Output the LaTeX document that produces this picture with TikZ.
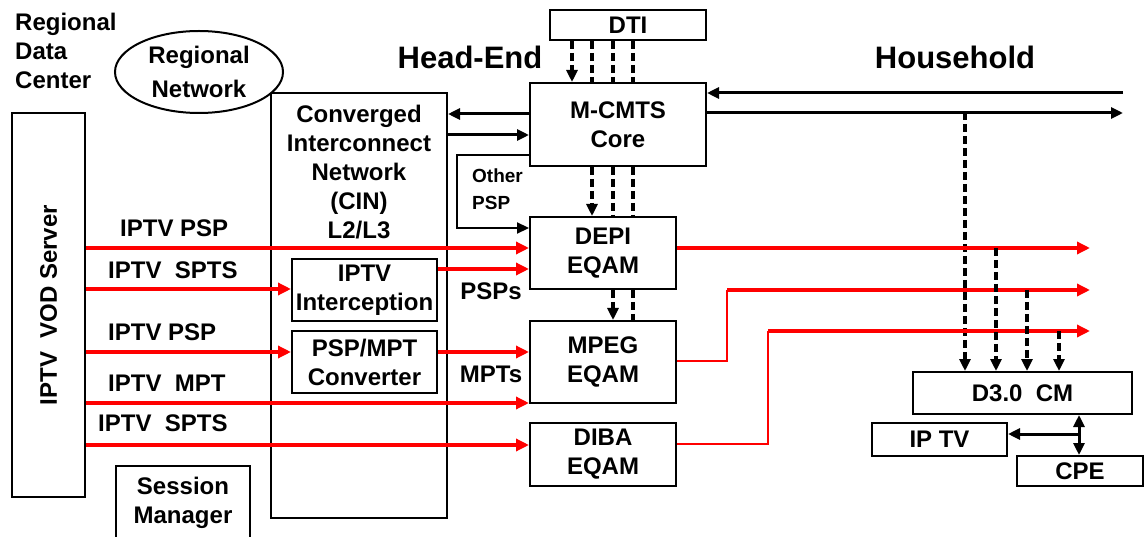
\documentclass[tikz,border=0pt]{standalone}
\usepackage{fontspec}
\setmainfont{Liberation Sans}
\usetikzlibrary{arrows.meta,shapes.geometric}
\begin{document}
\begin{tikzpicture}[x=1pt,y=-1pt,
  every node/.style={font=\bfseries\fontsize{24}{29}\selectfont, align=center, inner sep=0pt},
  box/.style={draw, line width=2pt, fill=white},
  blkarr/.style={line width=3pt, -{Triangle[length=12pt,width=11pt]}},
  dblarr/.style={line width=3pt, {Triangle[length=12pt,width=11pt]}-{Triangle[length=12pt,width=11pt]}},
  dsh/.style={line width=3.2pt, dash pattern=on 8pt off 4pt},
  dsharr/.style={dsh, -{Triangle[length=12pt,width=11pt]}},
  redthick/.style={draw=red, line width=3.8pt},
  redthin/.style={draw=red, line width=2.2pt},
  redarr/.style={redthick, -{Triangle[length=13pt,width=12pt]}},
  hdr/.style={font=\bfseries\fontsize{31}{36}\selectfont},
  small/.style={font=\bfseries\fontsize{19}{27}\selectfont},
]
\useasboundingbox (0,0) rectangle (1146,537);

% ---------- boxes ----------
\node[box, minimum width=73pt, minimum height=384pt] (vod) at (48.5,305) {};
\node[rotate=90] (vodtxt) at (48.5,305) {IPTV\ \ VOD Server};
\node[box, minimum width=176pt, minimum height=425pt] (cin) at (359,305.5) {};
\node (cintxt) at (359,172.5) {Converged\\Interconnect\\Network\\(CIN)\\L2/L3};
\node[box, minimum width=134pt, minimum height=85pt, anchor=north] (sess) at (183,465) {};
\node (sesstxt) at (183,502.5) {Session\\Manager};
\node[box, ellipse, minimum width=168pt, minimum height=82pt] (rnet) at (199,72) {};
\node (rnettxt) at (199,72) {Regional\\[5pt]Network};
\node[anchor=west, align=left] (rdc) at (15,51) {Regional\\Data\\Center};

\node[box, minimum width=156pt, minimum height=30pt] (dti) at (628,25) {DTI};
\node[box, minimum width=176pt, minimum height=83pt] (cmts) at (618,124.5) {M-CMTS\\Core};
\node[box, minimum width=146pt, minimum height=72pt] (depi) at (603,253) {DEPI\\EQAM};
\node[box, minimum width=146pt, minimum height=82pt] (mpeg) at (603,362) {MPEG\\EQAM};
\node[box, minimum width=146pt, minimum height=63pt] (diba) at (603,454.5) {DIBA\\EQAM};
\node[box, minimum width=145pt, minimum height=62pt] (icpt) at (364.5,290) {IPTV\\Interception};
\node[box, minimum width=145pt, minimum height=62pt] (conv) at (364.5,362) {PSP/MPT\\Converter};
\node[box, minimum width=219pt, minimum height=42pt] (cm) at (1022.5,393) {D3.0\ \ CM};
\node[box, minimum width=135pt, minimum height=33pt] (iptv) at (939.5,439.5) {IP TV};
\node[box, minimum width=126pt, minimum height=30pt] (cpe) at (1080,471) {CPE};

% ---------- headers and labels ----------
\node[hdr] (he) at (470,57) {Head-End};
\node[hdr] (hh) at (955,57) {Household};
\node[small, anchor=west, align=left] (opsp) at (472,189) {Other\\PSP};
\node[anchor=west] (l1) at (120,228) {IPTV PSP};
\node[anchor=west] (l2) at (108,270) {IPTV\ \ SPTS};
\node[anchor=west] (l3) at (108,332) {IPTV PSP};
\node[anchor=west] (l4) at (108,383) {IPTV\ \ MPT};
\node[anchor=west] (l5) at (98,423) {IPTV\ \ SPTS};
\node (psps) at (491,291) {PSPs};
\node (mpts) at (491,374) {MPTs};

% ---------- coordinates ----------
\coordinate (ro1) at (1090,248);
\coordinate (ro2) at (1090,290);
\coordinate (ro3) at (1090,331);
\coordinate (k2) at (727,290);
\coordinate (k3) at (768,331);
\coordinate (hin) at (1123,93);
\coordinate (hout) at (1123,113);
\coordinate (op) at (457,228);

% ---------- dashed DTI -> CMTS ----------
\draw[dsharr] (dti.south -| 572,0) -- (cmts.north -| 572,0);
\foreach \x in {592,613,633} \draw[dsh] (dti.south -| \x,0) -- (cmts.north -| \x,0);
% ---------- dashed CMTS -> DEPI ----------
\draw[dsharr] (cmts.south -| 592,0) -- (depi.north -| 592,0);
\foreach \x in {613,633} \draw[dsh] (cmts.south -| \x,0) -- (depi.north -| \x,0);
% ---------- dashed DEPI -> MPEG ----------
\draw[dsharr] (depi.south -| 613,0) -- (mpeg.north -| 613,0);
\draw[dsh] (depi.south -| 633,0) -- (mpeg.north -| 633,0);

% ---------- CMTS <-> CIN ----------
\draw[blkarr] (cmts.west |- 0,114) -- (cin.east |- 0,114);
\draw[blkarr] (cin.east |- 0,135) -- (cmts.west |- 0,135);
\draw[blkarr, line width=2.2pt] (cmts.west |- 0,155) -| (op) -- (depi.west |- op);

% ---------- household lines ----------
\draw[blkarr] (hin) -- (cmts.east |- hin);
\draw[blkarr] (cmts.east |- hout) -- (hout);
\draw[dsharr] (cm.north -| 965,0) ++(0,-259) -- (cm.north -| 965,0);

% ---------- red inputs ----------
\draw[redarr] (vod.east |- 0,248) -- (depi.west |- 0,248);
\draw[redarr] (vod.east |- 0,289) -- (icpt.west |- 0,289);
\draw[redarr] (icpt.east |- 0,269) -- (depi.west |- 0,269);
\draw[redarr, line width=4.5pt] (vod.east |- 0,352) -- (conv.west |- 0,352);
\draw[redarr, line width=4.5pt] (conv.east |- 0,352) -- (mpeg.west |- 0,352);
\draw[redarr] (vod.east |- 0,403) -- (mpeg.west |- 0,403);
\draw[redarr] (vod.east |- 0,445) -- (diba.west |- 0,445);

% ---------- red outputs ----------
\draw[redarr] (depi.east |- ro1) -- (ro1);
\draw[redthin] (mpeg.east |- 0,361) -| (k2);
\draw[redarr] (k2) -- (ro2);
\draw[redthin] (diba.east |- 0,444) -| (k3);
\draw[redarr] (k3) -- (ro3);

% ---------- dashed red -> CM ----------
\draw[dsharr] (ro1 -| 996,0) -- (cm.north -| 996,0);
\draw[dsharr] (ro2 -| 1027,0) -- (cm.north -| 1027,0);
\draw[dsharr] (ro3 -| 1059,0) -- (cm.north -| 1059,0);

% ---------- CM <-> CPE, IP TV ----------
\draw[dblarr] (cm.south -| 1079,0) -- (cpe.north -| 1079,0);
\draw[blkarr] (1079,434) -- (iptv.east |- 0,434);
\end{tikzpicture}
\end{document}
